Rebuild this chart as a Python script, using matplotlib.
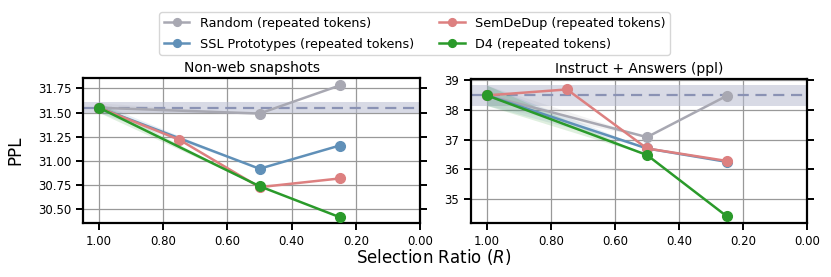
import matplotlib
matplotlib.use("Agg")
import matplotlib.pyplot as plt
import numpy as np
from matplotlib.ticker import FormatStrFormatter, FixedLocator

# ---- data ----
series_names = ["Random (repeated tokens)", "SSL Prototypes (repeated tokens)",
                "SemDeDup (repeated tokens)", "D4 (repeated tokens)"]
colors = ["#a8a8b2", "#6090b8", "#dd8080", "#2a9a2a"]

# Non-web snapshots
nw_random_x = [1.0, 0.5, 0.25]
nw_random_y = [31.55, 31.49, 31.78]
nw_ssl_x = [1.0, 0.5, 0.25]
nw_ssl_y = [31.55, 30.92, 31.16]
nw_sem_x = [1.0, 0.75, 0.5, 0.25]
nw_sem_y = [31.55, 31.22, 30.73, 30.82]
nw_d4_x = [1.0, 0.5, 0.25]
nw_d4_y = [31.55, 30.74, 30.42]
nw_base = 31.55
nw_base_lo, nw_base_hi = 31.50, 31.605
nw_err = [0.05, 0.0, 0.0]  # spread at R=1.0 shrinking to 0

# Instruct + Answers
ia_random_x = [1.0, 0.5, 0.25]
ia_random_y = [38.48, 37.08, 38.47]
ia_ssl_x = [1.0, 0.5, 0.25]
ia_ssl_y = [38.48, 36.70, 36.25]
ia_sem_x = [1.0, 0.75, 0.5, 0.25]
ia_sem_y = [38.48, 38.68, 36.70, 36.28]
ia_d4_x = [1.0, 0.5, 0.25]
ia_d4_y = [38.48, 36.48, 34.42]
ia_base = 38.48
ia_base_lo, ia_base_hi = 38.14, 38.83
ia_err = [0.34, 0.0, 0.0]

x_ticks = [1.0, 0.8, 0.6, 0.4, 0.2, 0.0]
nw_yticks = [30.50, 30.75, 31.00, 31.25, 31.50, 31.75]
ia_yticks = [35, 36, 37, 38, 39]

fig = plt.figure(figsize=(8.31, 2.77), dpi=100)
ax1 = fig.add_axes([83/831, 1-223/277, (420-83)/831, (223-78)/277])
ax2 = fig.add_axes([471/831, 1-223/277, (807-471)/831, (223-79)/277])

def draw(ax, data, base, lo, hi, err):
    ax.axhspan(lo, hi, color="#b8bcd0", alpha=0.55, zorder=1, lw=0)
    ax.axhline(base, color="#8a92b4", ls=(0, (5, 3)), lw=1.6, zorder=2)
    handles = []
    for i, (xs, ys) in enumerate(data):
        c = colors[i]
        if i != 2:
            xb = [xs[0], xs[1]]
            yb = [ys[0], ys[1]]
            e = [err[0], err[1]]
            ax.fill_between(xb, np.array(yb) - np.array(e), np.array(yb) + np.array(e),
                            color=c, alpha=0.15, lw=0, zorder=3)
        h, = ax.plot(xs, ys, color=c, lw=1.8, marker="o", ms=7, zorder=4 + i,
                     label=series_names[i])
        handles.append(h)
    return handles

handles = draw(ax1, [(nw_random_x, nw_random_y), (nw_ssl_x, nw_ssl_y),
                     (nw_sem_x, nw_sem_y), (nw_d4_x, nw_d4_y)],
               nw_base, nw_base_lo, nw_base_hi, nw_err)
draw(ax2, [(ia_random_x, ia_random_y), (ia_ssl_x, ia_ssl_y),
           (ia_sem_x, ia_sem_y), (ia_d4_x, ia_d4_y)],
     ia_base, ia_base_lo, ia_base_hi, ia_err)

for ax in (ax1, ax2):
    ax.set_xlim(1.05, 0.0)
    ax.xaxis.set_major_locator(FixedLocator(x_ticks))
    ax.xaxis.set_major_formatter(FormatStrFormatter("%.2f"))
    ax.grid(True, color="#999999", lw=0.9, zorder=0)
    ax.set_axisbelow(True)
    for s in ax.spines.values():
        s.set_linewidth(1.6)
        s.set_color("black")
    ax.tick_params(axis="both", labelsize=8.5, width=1.4, length=5, right=True,
                   direction="out", colors="black")

ax1.set_ylim(30.36, 31.857)
ax1.yaxis.set_major_locator(FixedLocator(nw_yticks))
ax1.yaxis.set_major_formatter(FormatStrFormatter("%.2f"))
ax2.set_ylim(34.2, 39.03)
ax2.yaxis.set_major_locator(FixedLocator(ia_yticks))
ax2.yaxis.set_major_formatter(FormatStrFormatter("%d"))

ax1.set_title("Non-web snapshots", fontsize=10, pad=4)
ax2.set_title("Instruct + Answers (ppl)", fontsize=10, pad=4)
ax1.set_ylabel("PPL", fontsize=12)
ax1.yaxis.set_label_coords(-0.175, 0.5)
fig.text(0.522, 1 - 257/277, "Selection Ratio ($R$)", ha="center", va="center", fontsize=12)

fig.legend(handles=handles, loc="upper center", bbox_to_anchor=(0.499, 1 - 6/277),
           ncol=2, fontsize=9.2, frameon=True, handlelength=2.0,
           borderpad=0.35, labelspacing=0.6, columnspacing=2.0, markerscale=0.8)

fig.savefig("out.png", dpi=100)
